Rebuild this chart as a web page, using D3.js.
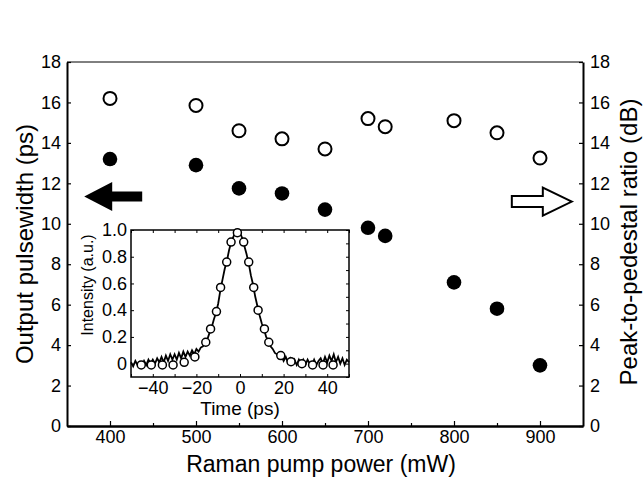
<!DOCTYPE html>
<html>
<head>
<meta charset="utf-8">
<script src="https://cdn.jsdelivr.net/npm/d3@7"></script>
<style>
  body { margin: 0; background: #fff; }
  text { font-family: "Liberation Sans", Arial, sans-serif; fill: #000; }
</style>
</head>
<body>
<script>
// main plot data
var power = [400, 500, 550, 600, 650, 700, 720, 800, 850, 900];
var pulsewidth = [13.2, 12.9, 11.75, 11.5, 10.7, 9.8, 9.4, 7.1, 5.8, 3.0];
var pedestal = [16.2, 15.85, 14.6, 14.2, 13.7, 15.2, 14.8, 15.1, 14.5, 13.25];
var xTicks = [400, 500, 600, 700, 800, 900];
var xMinor = [450, 550, 650, 750, 850];
var yTicks = [0, 2, 4, 6, 8, 10, 12, 14, 16, 18];

// inset: measured trace and markers
var traceTime = [-50,-49,-48,-47,-46,-45,-44,-43,-42,-41,-40,-39,-38,-37,-36,-35,-34,-33,-32,-31,
  -30,-29,-28,-27,-26,-25,-24,-23,-22,-21,-20,-19,-18,-17,-16,-15,-14,-13,-12,-11,
  -10,-9,-8,-7,-6,-5,-4,-3,-2,-1,0,1,2,3,4,5,6,7,8,9,
  10,11,12,13,14,15,16,17,18,19,20,21,22,23,24,25,26,27,28,29,
  30,31,32,33,34,35,36,37,38,39,40,41,42,43,44,45,46,47,48,49,50];
var traceInt = [0.01,-0.02,0.02,-0.01,0.01,-0.02,0.02,-0.01,0.03,0.00,0.03,0.00,0.04,0.01,0.05,0.01,0.06,0.02,0.07,0.03,
  0.07,0.03,0.08,0.04,0.09,0.05,0.09,0.06,0.10,0.07,0.11,0.09,0.12,0.13,0.16,0.18,0.23,0.27,0.33,0.38,
  0.45,0.55,0.63,0.71,0.77,0.85,0.91,0.95,0.99,1.00,0.98,0.94,0.88,0.82,0.75,0.66,0.59,0.50,0.43,0.36,
  0.30,0.26,0.20,0.17,0.13,0.11,0.08,0.07,0.04,0.06,0.02,0.05,0.01,0.04,0.00,0.03,-0.01,0.03,0.00,0.03,
  -0.01,0.03,0.00,-0.01,0.03,-0.01,0.02,0.04,0.00,0.05,0.01,0.06,0.02,0.07,0.01,0.05,0.00,0.04,-0.01,0.03,0.01];
var markTime = [-45.3,-40.7,-35.6,-30.7,-25.6,-20.7,-15.7,-13.5,-10.8,-8.9,-6.1,-4.1,-1.2,
  1.7,4.0,6.3,8.3,11.2,13.2,18.7,23.4,28.4,33.3,38.1,42.7];
var markInt = [-0.01,-0.01,-0.01,-0.01,0.01,0.05,0.16,0.26,0.39,0.57,0.76,0.91,0.98,
  0.91,0.76,0.57,0.40,0.26,0.16,0.06,0.015,0.0,-0.01,-0.01,-0.01];
var insetXTicks = [-40, -20, 0, 20, 40];
var insetXMinor = [-50, -30, -10, 10, 30, 50];
var insetYTicks = [0, 0.2, 0.4, 0.6, 0.8, 1.0];
var insetYMinor = [-0.1, 0.1, 0.3, 0.5, 0.7, 0.9];

var width = 643, height = 482;

var svg = d3.select("body").append("svg")
    .attr("width", width)
    .attr("height", height);

var x = d3.scaleLinear().domain([350, 950]).range([67, 583]);
var y = d3.scaleLinear().domain([0, 18]).range([426, 62]);

// top border
svg.append("line")
    .attr("x1", x(350)).attr("x2", x(950))
    .attr("y1", y(18)).attr("y2", y(18))
    .attr("stroke", "#000").attr("stroke-width", 1);

// Axes
svg.append("g")
    .attr("transform", "translate(0," + y(0) + ")")
    .call(d3.axisBottom(x).tickValues(xTicks).tickSize(-5).tickPadding(4).tickSizeOuter(0));
svg.append("g")
    .attr("transform", "translate(0," + y(0) + ")")
    .call(d3.axisBottom(x).tickValues(xMinor).tickSize(-3).tickFormat("").tickSizeOuter(0));

svg.append("g")
    .attr("transform", "translate(" + x(350) + ",0)")
    .call(d3.axisLeft(y).tickValues(yTicks).tickSize(-4).tickPadding(6).tickSizeOuter(0));

svg.append("g")
    .attr("transform", "translate(" + x(950) + ",0)")
    .call(d3.axisRight(y).tickValues(yTicks).tickSize(-4).tickPadding(7).tickSizeOuter(0));

svg.selectAll(".domain").attr("stroke", "#000").attr("stroke-width", 2);
svg.selectAll(".tick line").attr("stroke", "#000").attr("stroke-width", 1.2);
svg.selectAll(".tick text").style("font-size", "18px")
    .style("font-family", "'Liberation Sans', Arial, sans-serif");

// Labels
svg.append("text")
    .attr("text-anchor", "middle")
    .attr("dominant-baseline", "central")
    .style("font-size", "24px")
    .attr("transform", "translate(24," + ((y(0) + y(18)) / 2) + ")rotate(-90)")
    .text("Output pulsewidth (ps)");

svg.append("text")
    .attr("text-anchor", "middle")
    .style("font-size", "23px")
    .attr("x", (x(350) + x(950)) / 2 - 4)
    .attr("y", 472)
    .text("Raman pump power (mW)");

svg.append("text")
    .attr("text-anchor", "middle")
    .attr("dominant-baseline", "central")
    .style("font-size", "24px")
    .attr("transform", "translate(628," + ((y(0) + y(18)) / 2 - 2) + ")rotate(-90)")
    .text("Peak-to-pedestal ratio (dB)");

// Inset
var ix = d3.scaleLinear().domain([-50, 50]).range([131, 349]);
var iy = d3.scaleLinear().domain([-0.1, 1.0]).range([377, 230]);

var inset = svg.append("g");
inset.append("rect")
    .attr("x", ix(-50)).attr("y", iy(1.0))
    .attr("width", ix(50) - ix(-50)).attr("height", iy(-0.1) - iy(1.0))
    .attr("fill", "#fff").attr("stroke", "#000").attr("stroke-width", 1.5);

var insetAxes = inset.append("g");
insetAxes.append("g")
    .attr("transform", "translate(0," + iy(-0.1) + ")")
    .call(d3.axisBottom(ix).tickValues(insetXTicks).tickSize(-3).tickPadding(4).tickSizeOuter(0));
insetAxes.append("g")
    .attr("transform", "translate(0," + iy(-0.1) + ")")
    .call(d3.axisBottom(ix).tickValues(insetXMinor).tickSize(-3).tickFormat("").tickSizeOuter(0));
insetAxes.append("g")
    .attr("transform", "translate(0," + iy(1.0) + ")")
    .call(d3.axisTop(ix).tickValues(insetXTicks.concat(insetXMinor)).tickSize(-3).tickFormat("").tickSizeOuter(0));
insetAxes.append("g")
    .attr("transform", "translate(" + ix(-50) + ",0)")
    .call(d3.axisLeft(iy).tickValues(insetYTicks).tickSize(-3).tickPadding(4).tickSizeOuter(0)
        .tickFormat(function(d) { return d === 0 ? "0" : d3.format(".1f")(d); }));
insetAxes.append("g")
    .attr("transform", "translate(" + ix(50) + ",0)")
    .call(d3.axisRight(iy).tickValues(insetYTicks.concat(insetYMinor)).tickSize(-3).tickFormat("").tickSizeOuter(0));

insetAxes.selectAll(".domain").attr("stroke", "none");
insetAxes.selectAll(".tick line").attr("stroke", "#000").attr("stroke-width", 1);
insetAxes.selectAll(".tick text").style("font-size", "18px")
    .style("font-family", "'Liberation Sans', Arial, sans-serif");

var trace = traceTime.map(function(t, i) { return [t, traceInt[i]]; });
inset.append("path")
    .datum(trace)
    .attr("fill", "none")
    .attr("stroke", "#000")
    .attr("stroke-width", 1.8)
    .attr("d", d3.line().x(function(d) { return ix(d[0]); }).y(function(d) { return iy(d[1]); }));

inset.selectAll(".mark")
    .data(markTime)
    .enter().append("circle")
    .attr("class", "mark")
    .attr("cx", function(d) { return ix(d); })
    .attr("cy", function(d, i) { return iy(markInt[i]); })
    .attr("r", 4)
    .attr("fill", "#fff")
    .attr("stroke", "#000")
    .attr("stroke-width", 1.5);

inset.append("text")
    .attr("text-anchor", "middle")
    .attr("dominant-baseline", "central")
    .style("font-size", "16px")
    .attr("transform", "translate(87,285)rotate(-90)")
    .text("Intensity (a.u.)");

inset.append("text")
    .attr("text-anchor", "middle")
    .style("font-size", "19px")
    .attr("x", ix(0))
    .attr("y", 415)
    .text("Time (ps)");

// Main points
svg.selectAll(".ppr")
    .data(power)
    .enter().append("circle")
    .attr("class", "ppr")
    .attr("cx", function(d) { return x(d); })
    .attr("cy", function(d, i) { return y(pedestal[i]); })
    .attr("r", 6.5)
    .attr("fill", "#fff")
    .attr("stroke", "#000")
    .attr("stroke-width", 2);

svg.selectAll(".pw")
    .data(power)
    .enter().append("circle")
    .attr("class", "pw")
    .attr("cx", function(d) { return x(d); })
    .attr("cy", function(d, i) { return y(pulsewidth[i]); })
    .attr("r", 7.3)
    .attr("fill", "#000");

// Arrows pointing at the axes
function arrow(tipX, tipY, dir, headLen, headHalf, totalLen, shaftHalf) {
  var pts = [
    [0, 0], [headLen, -headHalf], [headLen, -shaftHalf], [totalLen, -shaftHalf],
    [totalLen, shaftHalf], [headLen, shaftHalf], [headLen, headHalf]
  ];
  return pts.map(function(p) { return [tipX + dir * p[0], tipY + p[1]]; });
}

svg.append("polygon")
    .attr("points", arrow(x(370), y(11.35), 1, 28, 14.5, 58, 5).join(" "))
    .attr("fill", "#000");

svg.append("polygon")
    .attr("points", arrow(x(937), y(11.1), -1, 29, 14, 60, 5.5).join(" "))
    .attr("fill", "#fff")
    .attr("stroke", "#000")
    .attr("stroke-width", 2);
</script>
</body>
</html>
